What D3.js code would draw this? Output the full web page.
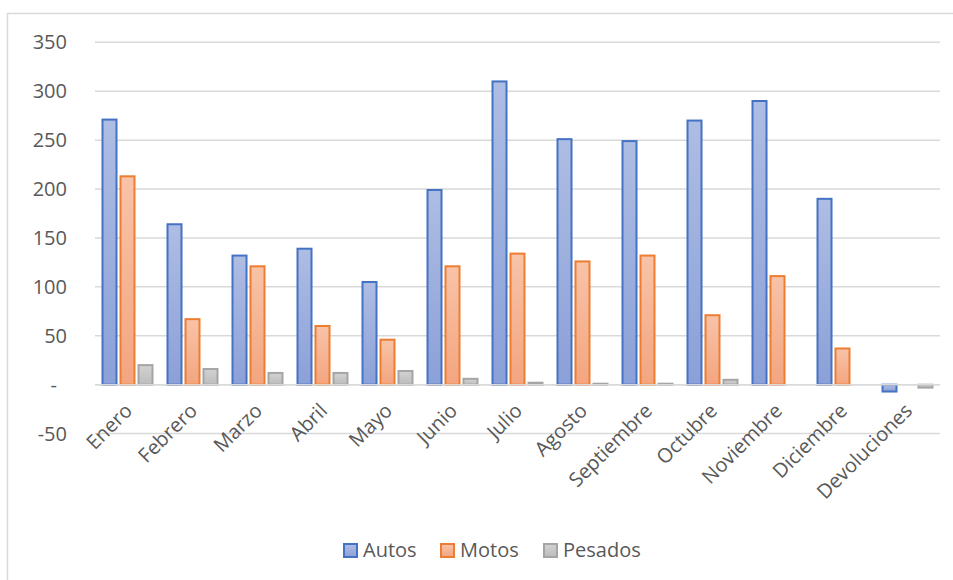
<!DOCTYPE html>
<html><head><meta charset="utf-8">
<script src="https://cdn.jsdelivr.net/npm/d3@7"></script>
<style>html,body{margin:0;padding:0;background:#fff;} text{font-family:"Open Sans",sans-serif;}</style>
</head><body>
<svg id="chart" width="953" height="580"></svg>
<script>
const categories = ["Enero","Febrero","Marzo","Abril","Mayo","Junio","Julio","Agosto","Septiembre","Octubre","Noviembre","Diciembre","Devoluciones"];
const seriesNames = ["Autos","Motos","Pesados"];
const autos   = [271,164,132,139,105,199,310,251,249,270,290,190,-7];
const motos   = [213,67,121,60,46,121,134,126,132,71,111,37,0];
const pesados = [20,16,12,12,14,6,2,1,1,5,0,0,-3];
const yTicks = [-50,0,50,100,150,200,250,300,350];
const yTickLabels = ["-50","-","50","100","150","200","250","300","350"];

const seriesValues = {Autos: autos, Motos: motos, Pesados: pesados};
const strokeCol = {Autos:"#4472c4", Motos:"#ed7d31", Pesados:"#a5a5a5"};
const gradTop = {Autos:"#aebde3", Motos:"#f8c3a8", Pesados:"#d2d2d2"};
const gradBot = {Autos:"#8ba0d8", Motos:"#f3a57f", Pesados:"#bcbcbc"};

const svg = d3.select("#chart");
const defs = svg.append("defs");
seriesNames.forEach(s => {
  const g = defs.append("linearGradient").attr("id","g_"+s).attr("x1",0).attr("y1",0).attr("x2",0).attr("y2",1);
  g.append("stop").attr("offset","0%").attr("stop-color",gradTop[s]);
  g.append("stop").attr("offset","100%").attr("stop-color",gradBot[s]);
});

// chart border
svg.append("path").attr("d","M7.5,580 V13.5 H953").attr("fill","none").attr("stroke","#d9d9d9").attr("stroke-width",1.5);

const y = d3.scaleLinear().domain([-50,350]).range([433.6,42.3]);
const x0 = d3.scaleBand().domain(categories).range([95,940]).paddingInner(0.2).paddingOuter(0.1);
const x1 = d3.scaleBand().domain(seriesNames).range([0,x0.bandwidth()]).paddingInner(0.11);

// gridlines
svg.append("g").selectAll("line").data(yTicks).join("line")
  .attr("x1",95).attr("x2",940)
  .attr("y1",d=>y(d)).attr("y2",d=>y(d))
  .attr("stroke","#d9d9d9").attr("stroke-width",1.5);

// y axis labels
const yAxis = d3.axisLeft(y).tickValues(yTicks).tickSize(0).tickPadding(0)
  .tickFormat((d,i) => yTickLabels[i]);
const ya = svg.append("g").attr("transform","translate(67,0)").call(yAxis);
ya.select(".domain").remove();
ya.selectAll("text").attr("fill","#595959").style("font-size","20px").style("font-family","'Open Sans',sans-serif")
  .attr("dx", d => d===0 ? -10 : 0);

// bars
const data = [];
categories.forEach((c,i) => seriesNames.forEach(s => data.push({c, s, v: seriesValues[s][i]})));
svg.append("g").selectAll("rect").data(data.filter(d=>d.v!==0)).join("rect")
  .attr("x", d => x0(d.c) + x1(d.s) + 1)
  .attr("width", x1.bandwidth() - 2)
  .attr("y", d => y(Math.max(0,d.v)))
  .attr("height", d => Math.abs(y(d.v) - y(0)))
  .attr("fill", d => "url(#g_"+d.s+")")
  .attr("stroke", d => strokeCol[d.s]).attr("stroke-width",2);

// zero axis line on top
svg.append("line").attr("x1",95).attr("x2",940).attr("y1",y(0)).attr("y2",y(0))
  .attr("stroke","#d9d9d9").attr("stroke-width",1.5);

// x labels
const xAxis = d3.axisBottom(x0).tickSize(0).tickPadding(0);
const xa = svg.append("g").attr("transform","translate(0,412)").call(xAxis);
xa.select(".domain").remove();
xa.selectAll("text").attr("fill","#595959").style("font-size","20px").style("font-family","'Open Sans',sans-serif")
  .attr("text-anchor","end").attr("dy",0).attr("y",0).attr("x",0)
  .attr("transform","translate(6,0) rotate(-45)");

// legend
const legendX = [343,440,543];
const lg = svg.append("g");
seriesNames.forEach((s,i) => {
  lg.append("rect").attr("x",legendX[i]+1).attr("y",544).attr("width",13).attr("height",13)
    .attr("fill","url(#g_"+s+")").attr("stroke",strokeCol[s]).attr("stroke-width",2);
  lg.append("text").attr("x",legendX[i]+20).attr("y",557).text(s)
    .attr("fill","#595959").style("font-size","20px");
});
</script>
</body></html>
